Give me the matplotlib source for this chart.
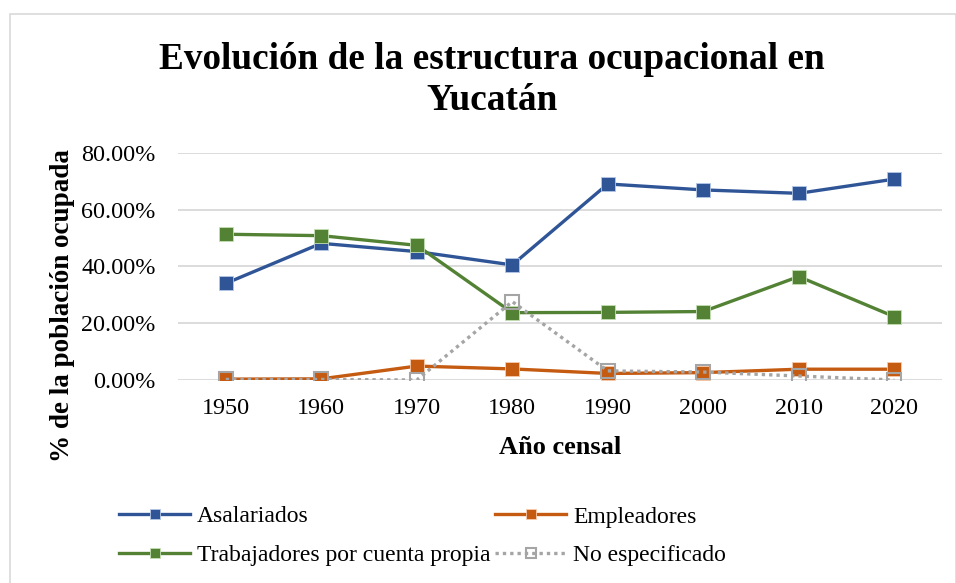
import matplotlib.pyplot as plt
from matplotlib.patches import Rectangle

# datos
anios = ["1950", "1960", "1970", "1980", "1990", "2000", "2010", "2020"]
asalariados = [34.0, 48.1, 45.2, 40.5, 69.0, 66.9, 65.7, 70.7]
empleadores = [0.3, 0.4, 4.9, 3.9, 2.3, 2.6, 3.8, 3.8]
cuenta_propia = [51.3, 50.8, 47.4, 23.7, 23.8, 24.1, 36.4, 22.3]
no_especificado = [0.2, 0.2, 0.0, 27.6, 3.2, 2.8, 1.4, 0.0]

plt.rcParams["font.family"] = ["Liberation Serif", "DejaVu Serif"]

fig = plt.figure(figsize=(9.56, 5.83), dpi=100)
ax = fig.add_axes([178 / 956, 1 - 380 / 583, (942 - 178) / 956, (380 - 152.7) / 583])

# marco del grafico
fig.patches.append(Rectangle((10 / 956, -0.01), 0.99, 1 - 14 / 583 + 0.01,
                             transform=fig.transFigure, fill=False,
                             edgecolor="#D9D9D9", linewidth=1.2))

x = range(len(anios))
ax.plot(x, asalariados, color="#2F5597", linewidth=2.4, marker="s", markersize=10,
        markeredgecolor="#B4C7E7", markeredgewidth=0.6, label="Asalariados", zorder=4)
ax.plot(x, cuenta_propia, color="#548235", linewidth=2.4, marker="s", markersize=10,
        markeredgecolor="#C5E0B4", markeredgewidth=0.6, label="Trabajadores por cuenta propia", zorder=4)
ax.plot(x, empleadores, color="#C55A11", linewidth=2.4, marker="s", markersize=10,
        markeredgecolor="#F8CBAD", markeredgewidth=0.6, label="Empleadores", zorder=4)
ax.plot(x, no_especificado, color="#A5A5A5", linewidth=2.4, linestyle=(0, (1, 1.2)),
        marker="s", markersize=10, markeredgecolor="#A5A5A5", markeredgewidth=1.5,
        fillstyle="none", label="No especificado", zorder=5)

ax.set_xlim(-0.5, 7.5)
ax.set_ylim(0, 80)
ax.set_yticks([0, 20, 40, 60, 80])
ax.set_yticklabels(["0.00%", "20.00%", "40.00%", "60.00%", "80.00%"])
ax.set_xticks(list(x))
ax.set_xticklabels(anios)
ax.tick_params(length=0, labelsize=17.4, colors="#000000")
ax.tick_params(axis="y", pad=16)
ax.tick_params(axis="x", pad=13)
ax.grid(axis="y", color="#D9D9D9", linewidth=1.3)
ax.set_axisbelow(True)
for s in ax.spines.values():
    s.set_visible(False)

ax.set_xlabel("Año censal", fontsize=19, fontweight="bold")
ax.xaxis.set_label_coords(0.5, -(436 - 380) / 227.3)
ax.set_ylabel("% de la población ocupada", fontsize=19.5, fontweight="bold")
ax.yaxis.set_label_coords((75 - 178) / 764, (380 - 306) / 227.3)

fig.text(492 / 956, 1 - 80 / 583, "Evolución de la estructura ocupacional en\nYucatán",
         ha="center", va="center", fontsize=26.8, fontweight="bold", linespacing=1.25)

h, l = ax.get_legend_handles_labels()
fig.legend(h, l, ncol=2, loc="center left", bbox_to_anchor=(98 / 956, 1 - 536 / 583),
           frameon=False, fontsize=17, handlelength=3.0, columnspacing=0.2,
           handletextpad=0.3, labelspacing=0.72, markerscale=0.7)

plt.savefig("out.png", dpi=100)
